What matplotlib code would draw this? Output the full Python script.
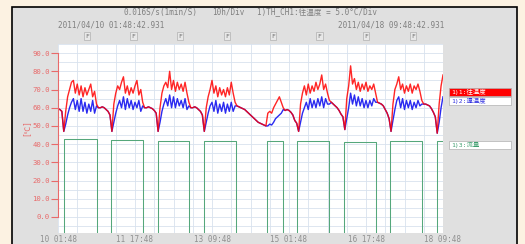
import numpy as np
import matplotlib
matplotlib.use("Agg")
from matplotlib import pyplot as plt
from matplotlib.patches import Rectangle
from matplotlib.ticker import FixedLocator

plt.rcParams['font.family'] = ['DejaVu Sans Mono', 'Noto Sans CJK JP']

# hours since 2011/04/10 01:48:42 (10h/Div, 20 div)
hours = np.arange(0, 201)

# 1)1 supply temperature, one reading per hour
red = [59.5, 59, 58, 47, 58, 66, 70, 74, 75, 68, 73, 67, 72, 66, 71, 67, 70, 73, 66, 69,
       62, 60, 60, 60.5, 60, 59, 58, 56, 47, 62, 68, 72, 70, 74, 77, 68, 72, 67, 71, 68,
       72, 75, 67, 70, 63, 60, 60, 60.5, 60, 59.5, 58.5, 57, 47, 60, 68, 72, 74, 71, 80, 70,
       75, 69, 74, 70, 73, 69, 74, 68, 63, 60, 60, 60.5, 60, 59, 58, 56, 47, 60, 66, 70,
       75, 68, 72, 66, 71, 67, 70, 66, 71, 67, 74, 68, 63, 61, 60.5, 60, 59.5, 59, 58, 57,
       56, 55, 54, 53, 52, 51.5, 51, 50.5, 50, 57, 58, 57, 60, 62, 64, 66, 63, 60, 58.5, 59,
       58.5, 57.5, 56, 53, 51.5, 47, 62, 68, 72, 67, 73, 68, 72, 69, 74, 70, 73, 78, 70, 73,
       68, 64, 63, 62, 61, 60, 58.5, 56.5, 55, 48, 65, 72, 83, 73, 76, 70, 74, 69, 73, 70,
       74, 69, 72, 70, 73, 68, 63, 62.5, 62, 61, 59, 57, 54, 47, 62, 70, 73, 77, 70, 73,
       68, 72, 69, 73, 68, 72, 70, 73, 69, 64, 62, 62, 61.5, 61, 59.5, 57.5, 55, 46, 62, 72,
       78]

# 1)2 return temperature
blue = [59.5, 59, 58, 47, 51, 56, 60, 63, 65, 59, 64, 58, 65, 58, 63, 57, 62, 58, 64, 57,
        61, 60, 60, 60.5, 60, 59, 58, 56, 47, 52, 57, 61, 64, 60, 66, 59, 65, 60, 64, 59,
        63, 60, 64, 58, 61, 60, 60, 60.5, 60, 59.5, 58.5, 57, 47, 52, 58, 62, 65, 61, 67, 60,
        66, 60, 65, 61, 64, 60, 65, 59, 61, 60, 60, 60.5, 60, 59, 58, 56, 47, 52, 57, 61,
        63, 58, 64, 57, 62, 58, 63, 57, 62, 58, 63, 58, 61, 61, 60.5, 60, 59.5, 59, 58, 57,
        56, 55, 54, 53, 52, 51.5, 51, 50.5, 50, 50, 51, 50.5, 52, 54, 55, 56, 57, 59, 58.5, 59,
        58.5, 57.5, 56, 53, 51.5, 47, 52, 57, 60, 63, 59, 65, 60, 64, 60, 65, 61, 66, 60, 65,
        62, 62, 63, 62, 61, 60, 58.5, 56.5, 55, 48, 54, 60, 68, 62, 67, 61, 66, 61, 65, 60,
        64, 60, 64, 61, 65, 63, 63, 62.5, 62, 61, 59, 57, 54, 47, 53, 59, 64, 66, 60, 65,
        59, 64, 60, 64, 59, 63, 60, 64, 61, 62, 62, 62, 61.5, 61, 59.5, 57.5, 55, 46, 52, 60,
        66]

# 1)3 flow: pump on / off times (hours) and level while on
flow_on = [3.1, 27.5, 52.0, 75.8, 108.6, 124.2, 148.6, 172.5, 196.9]
flow_off = [20.3, 44.2, 68.0, 92.5, 116.9, 140.8, 165.2, 189.1, 200.5]
flow_level = [42.6, 42.3, 41.8, 41.8, 41.6, 41.5, 41.4, 41.5, 41.5]
flow_low = -12

# "F" event marks
f_hours = [15.0, 39.2, 63.4, 87.7, 111.5, 135.8, 160.0, 184.4]

x_labels = ["10 01:48", "11 17:48", "13 09:48", "15 01:48", "16 17:48", "18 09:48"]
y_ticks = [0, 10, 20, 30, 40, 50, 60, 70, 80, 90]

fig = plt.figure(figsize=(5.25, 2.44), dpi=100)
fig.patch.set_facecolor("#fcf2e2")
fig.patches.append(Rectangle((12 / 525, -0.1), 505 / 525, 1.1 - 7 / 244, transform=fig.transFigure,
                             facecolor="#e0e0e0", edgecolor="black", linewidth=1.2, zorder=-5))

ax = fig.add_axes([58 / 525, 1 - 233 / 244, 385 / 525, 189 / 244])
ax.set_facecolor("white")

# flow as a step line
ft, fv = [0], [flow_low]
for a, b, lv in zip(flow_on, flow_off, flow_level):
    ft += [a, a, b, b]
    fv += [flow_low, lv, lv, flow_low]
ax.plot(ft, fv, color="#55a77b", linewidth=0.75)

ax.plot(hours, blue, color="#2a2af0", linewidth=1.0)
ax.plot(hours, red, color="#ff0000", linewidth=1.0, alpha=0.85)

ax.set_xlim(0, 200)
ax.set_ylim(-8.8, 95)
ax.xaxis.set_major_locator(FixedLocator(range(0, 201, 40)))
ax.xaxis.set_minor_locator(FixedLocator(range(0, 201, 10)))
ax.set_xticklabels(x_labels)
ax.yaxis.set_major_locator(FixedLocator(y_ticks))
ax.yaxis.set_minor_locator(FixedLocator(np.arange(-5, 96, 5)))
ax.set_yticklabels(["%.1f" % v for v in y_ticks])
ax.grid(which="both", color="#d8e2ee", linewidth=0.6)
ax.set_axisbelow(True)

for s in ["top", "right", "bottom"]:
    ax.spines[s].set_visible(False)
ax.spines["left"].set_bounds(0, 90)
ax.spines["left"].set_color("#e86a6a")
ax.tick_params(axis="y", which="major", colors="#e86a6a", labelsize=5.2, length=5, width=0.8, pad=1)
ax.tick_params(axis="x", which="major", colors="#909090", labelsize=5.5, length=0, pad=1.5)
ax.tick_params(which="minor", length=0)

fig.text(26 / 525, 1 - 128 / 244, "[℃]", color="#e86a6a", fontsize=5.5, rotation=90,
         ha="center", va="center")

hdr = dict(color="#808080", fontsize=5.5, va="center")
fig.text(123 / 525, 1 - 12 / 244, "0.016S/s(1min/S)", **hdr)
fig.text(212 / 525, 1 - 12 / 244, "10h/Div", **hdr)
fig.text(257 / 525, 1 - 12 / 244, "1)TH_CH1:往温度 = 5.0°C/Div", **hdr)
fig.text(58 / 525, 1 - 25 / 244, "2011/04/10 01:48:42.931", **hdr)
fig.text(444 / 525, 1 - 25 / 244, "2011/04/18 09:48:42.931", ha="right", color="#808080",
         fontsize=5.5, va="center")

for h in f_hours:
    ax.text(h, 1 + 8 / 189, "F", transform=ax.get_xaxis_transform(), fontsize=4.5, color="#707070",
            ha="center", va="center", clip_on=False,
            bbox=dict(boxstyle="square,pad=0.2", facecolor="#e8e8e8", edgecolor="#b0b0b0", linewidth=0.5))

# channel legend boxes
leg = [("1)1:往温度", "white", "#ff0000", 92), ("1)2:還温度", "#3030e0", "white", 101),
       ("1)3:流量", "#3e9e6e", "white", 145)]
for txt, fc, bg, yc in leg:
    fig.patches.append(Rectangle((449 / 525, 1 - (yc + 4) / 244), 62 / 525, 8 / 244, transform=fig.transFigure,
                                 facecolor=bg, edgecolor="#b0b0b0", linewidth=0.5, zorder=2))
    fig.text(451 / 525, 1 - yc / 244, txt, color=fc, fontsize=4.6, va="center", zorder=3)

fig.savefig("out.png", dpi=100, facecolor=fig.get_facecolor())
